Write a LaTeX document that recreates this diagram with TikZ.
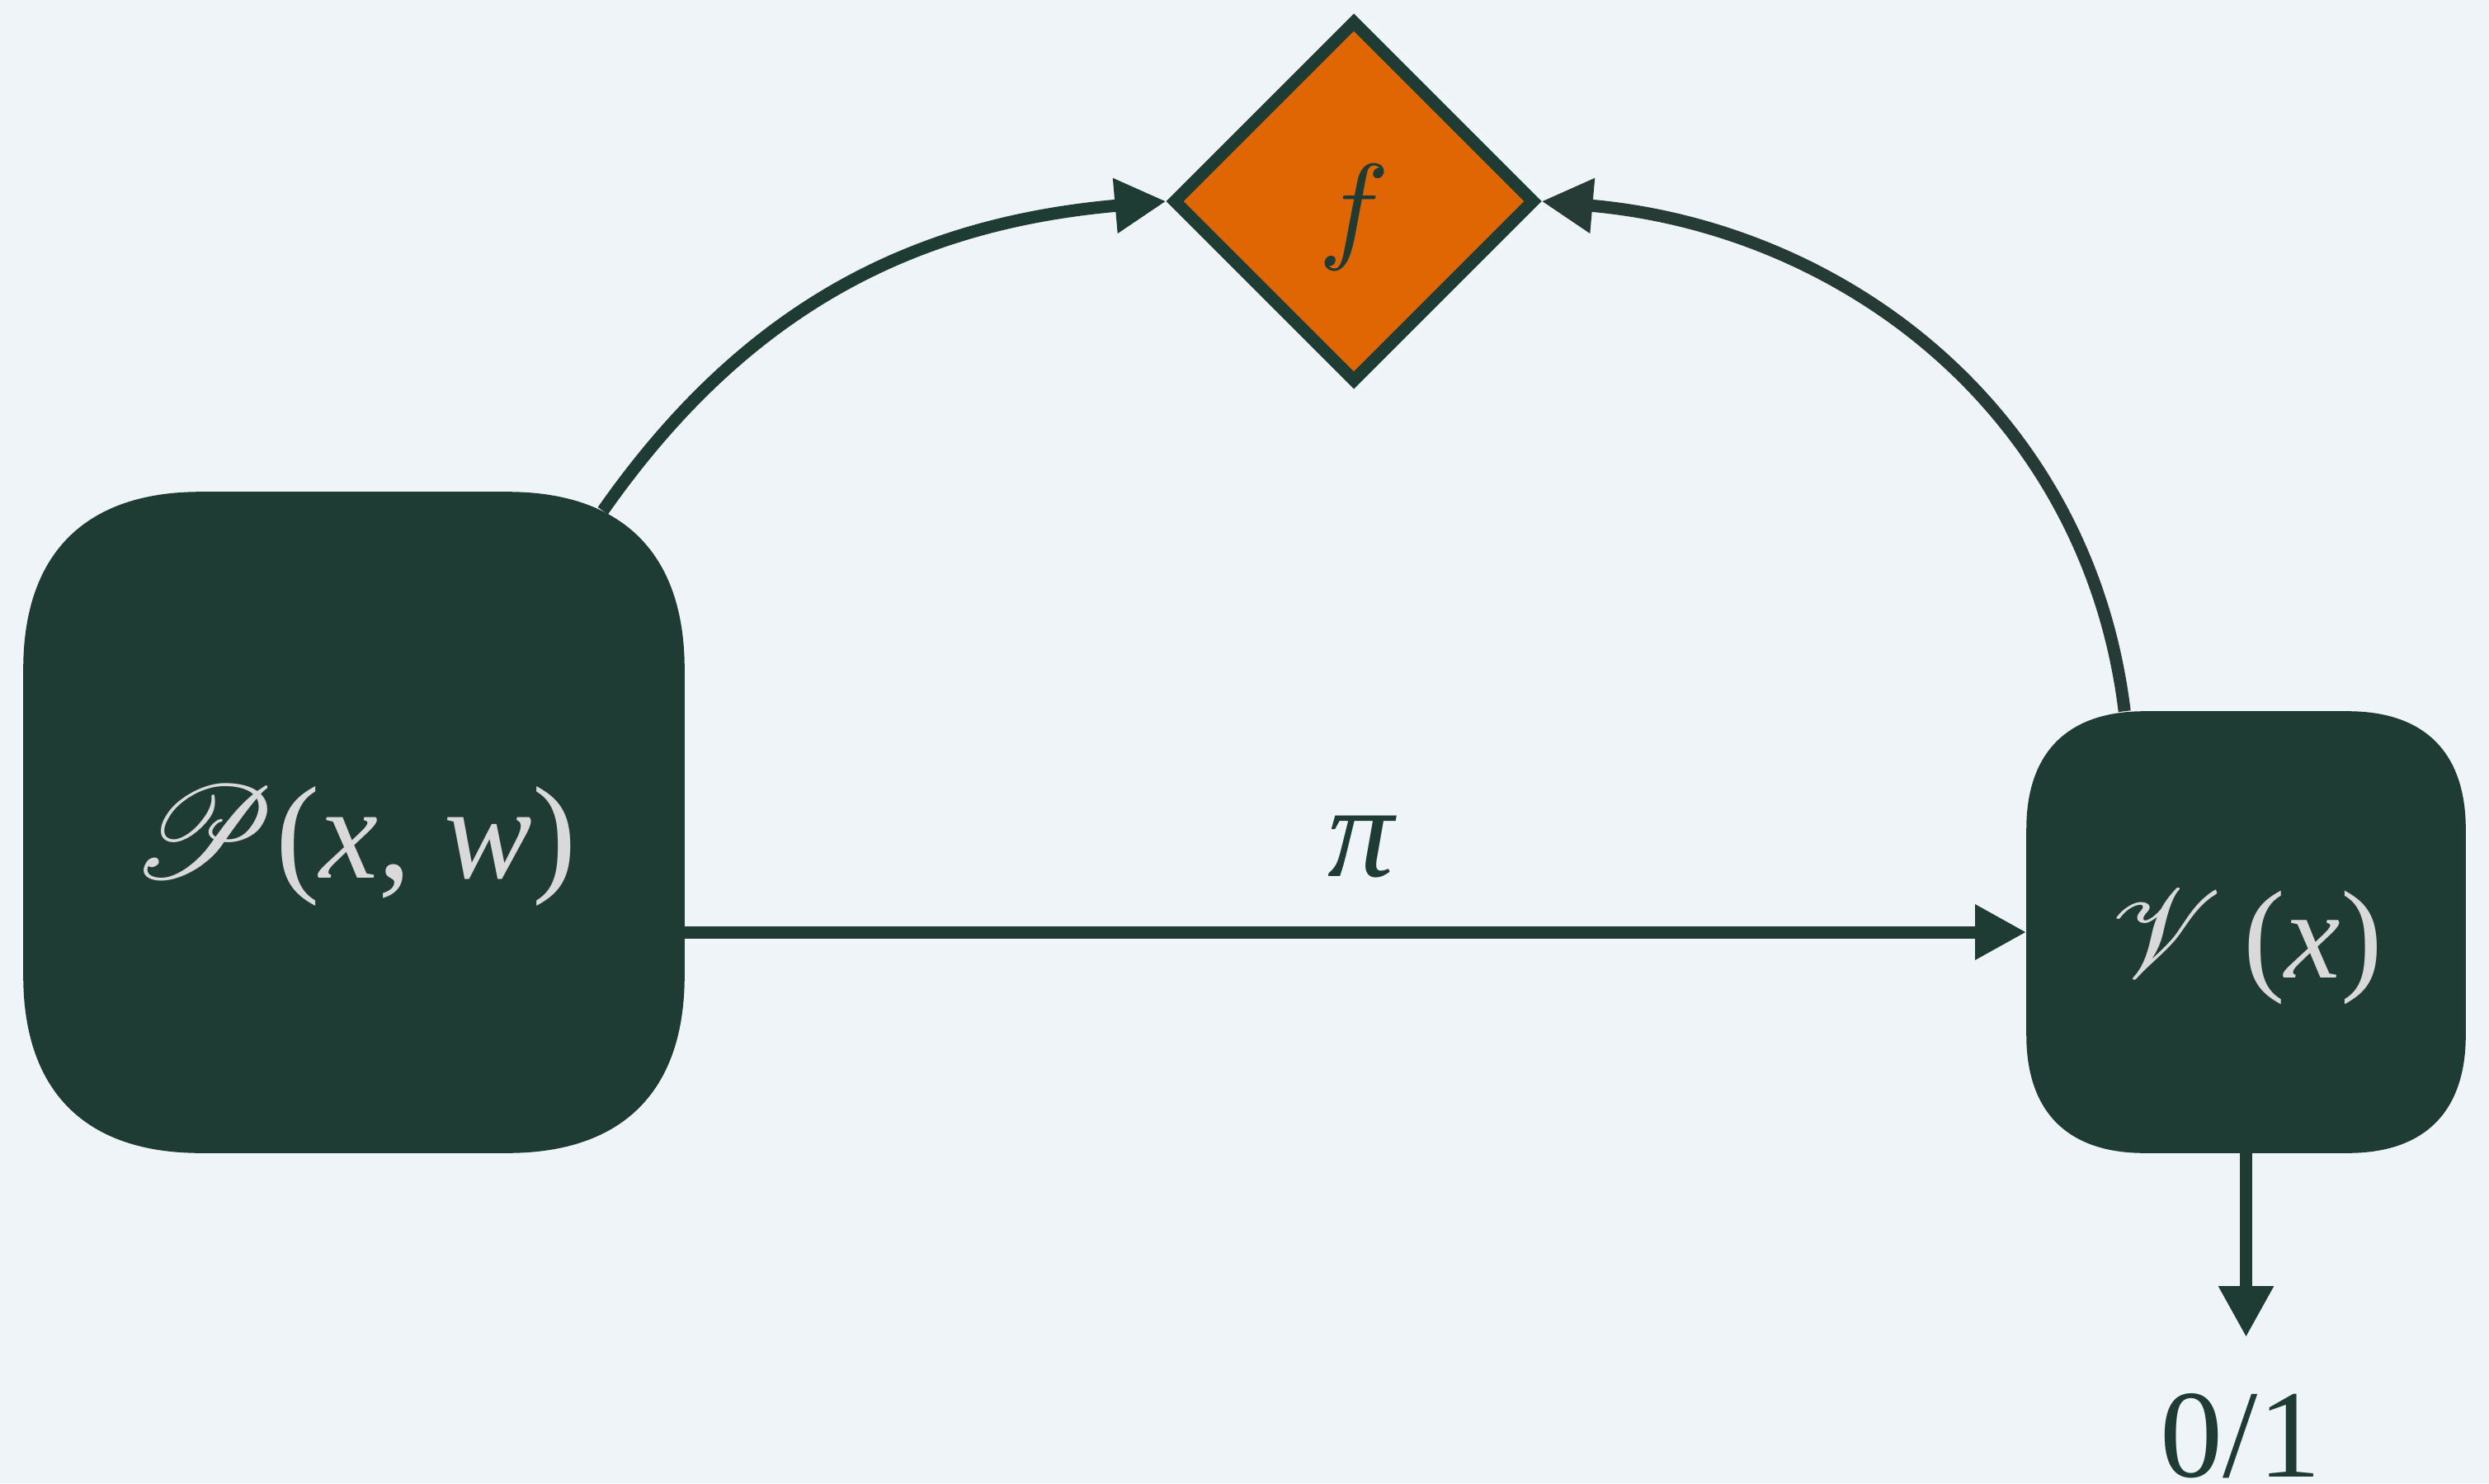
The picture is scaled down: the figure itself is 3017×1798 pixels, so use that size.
\documentclass[tikz,border=0pt]{standalone}
\usepackage{fontspec}
\setmainfont{Liberation Serif}[ItalicFont={Liberation Serif Italic}]
\DeclareFontShape{OML}{cmm}{m}{it}{<-> cmmi10}{}
\DeclareFontFamily{U}{rsfsx}{\skewchar\font127 }
\DeclareFontShape{U}{rsfsx}{m}{n}{<-6> rsfs5 <6-8> rsfs7 <8-> rsfs10}{}
\DeclareMathAlphabet{\mathscrx}{U}{rsfsx}{m}{n}
\usetikzlibrary{arrows.meta,shapes.geometric,calc}
\pgfdeclarelayer{back}
\pgfdeclarelayer{shapes}
\pgfsetlayers{back,shapes,main}
\definecolor{bgc}{HTML}{EEF4F7}
\definecolor{dkg}{HTML}{1E3C34}
\definecolor{dkgb}{HTML}{273B36}
\definecolor{orng}{HTML}{E06503}
\definecolor{lgt}{HTML}{D9D9D9}
% squircle fill behind a node: #1 node name, #2 corner extent, #3 control offset from corner
\newcommand\squirclefill[3]{%
  \begin{pgfonlayer}{shapes}
  \fill[dkg] ($(#1.north west)+(#2,0)$) -- ($(#1.north east)+(-#2,0)$)
    .. controls ($(#1.north east)+(-#3,0)$) and ($(#1.north east)+(0,#3)$) .. ($(#1.north east)+(0,#2)$)
    -- ($(#1.south east)+(0,-#2)$)
    .. controls ($(#1.south east)+(0,-#3)$) and ($(#1.south east)+(-#3,0)$) .. ($(#1.south east)+(-#2,0)$)
    -- ($(#1.south west)+(#2,0)$)
    .. controls ($(#1.south west)+(#3,0)$) and ($(#1.south west)+(0,-#3)$) .. ($(#1.south west)+(0,-#2)$)
    -- ($(#1.north west)+(0,#2)$)
    .. controls ($(#1.north west)+(0,#3)$) and ($(#1.north west)+(#3,0)$) .. cycle;
  \end{pgfonlayer}}
\begin{document}
\begin{tikzpicture}[x=0.25pt,y=-0.25pt,
  box/.style={rectangle, draw=none, inner sep=0pt, text=lgt},
  conn/.style={draw=dkg, line width=3.75pt, -{Triangle[length=15.5pt,width=15.75pt]}},
  ]
\begin{pgfonlayer}{back}
\fill[bgc] (0,0) rectangle (3017,1798);
\end{pgfonlayer}
\useasboundingbox (0,0) rectangle (3017,1798);

\node[box, minimum width=200pt, minimum height=200pt,
      font=\fontsize{40}{48}\selectfont] (P) at (429,997)
  {\raisebox{-7.25pt}[\height][\depth]{$\mathscrx{P}$(\textit{x}, \textit{w})}};
\squirclefill{P}{215}{75}

\node[box, minimum width=132.75pt, minimum height=133.5pt,
      font=\fontsize{38}{46}\selectfont] (V) at (2722.5,1130)
  {\raisebox{-4.5pt}[\height][\depth]{$\mathscrx{V}$\,(\textit{x})}};
\squirclefill{V}{143}{50}

\node[diamond, aspect=1, minimum width=110pt, minimum height=110pt, inner sep=0pt,
      fill=orng, draw=dkg, line width=3.75pt, text=dkg,
      font=\fontsize{36}{40}\selectfont] (F) at (1641,244)
  {\raisebox{-5pt}[\height][\depth]{$f$}};

\draw[conn] (V.west -| P.east) -- (V.west);
\node[text=dkg, font=\fontsize{40}{48}\selectfont] (pi) at (1651,1027) {\textit{π}};

\draw[conn] ($(P.north east)+(-99,23)$) to[out=55,in=185] (F.west);
\draw[conn, draw=dkgb] ($(V.north west)+(119,0)$) to[out=97,in=-5] (F.east);

\coordinate (res) at (2722.5,1621);
\draw[conn] (V.south) -- (res);
\node[text=dkg, anchor=base, font=\fontsize{38}{46}\selectfont] (out) at (2716,1790) {0/1};
\end{tikzpicture}
\end{document}
